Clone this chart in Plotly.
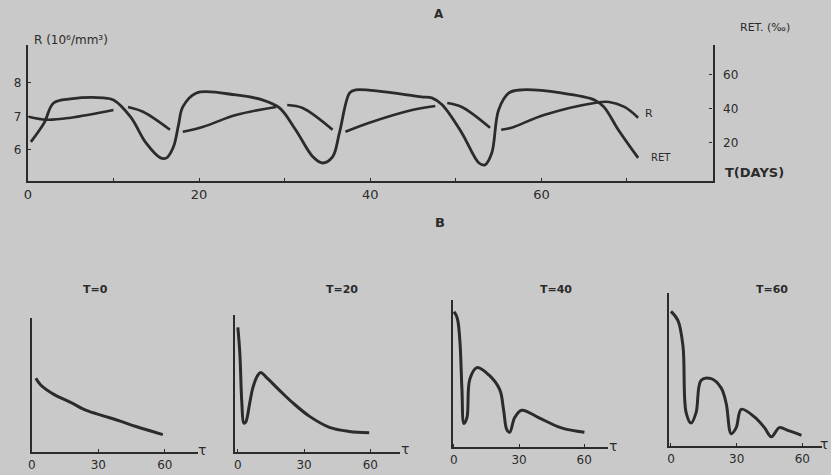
import plotly.graph_objects as go

# ---- Panel A data (T in days) ----
r_t = [0.1, 2.2, 5.0, 10.0, None, 11.7, 13.5, 16.6, None, 18.1, 20.5, 24.3, 29.0, None,
       30.3, 32.1, 35.6, None, 37.1, 39.9, 44.9, 47.6, None, 49.0, 50.7, 54.0, None,
       55.3, 56.5, 60.3, 66.2, 67.9, 69.7, 71.3]
r_val = [6.99, 6.90, 6.96, 7.19, None, 7.28, 7.13, 6.60, None, 6.54, 6.69, 7.04, 7.28, None,
         7.34, 7.25, 6.60, None, 6.54, 6.81, 7.19, 7.31, None, 7.40, 7.28, 6.66, None,
         6.60, 6.66, 7.04, 7.40, 7.43, 7.28, 6.96]

ret_t = [0.35, 1.9, 3.0, 5.0, 8.8, 10.0, 12.0, 13.8, 15.5, 16.2, 17.0, 17.6, 18.1, 19.7,
         24.3, 27.4, 29.4, 31.3, 33.3, 34.4, 35.6, 36.4, 37.6, 38.3, 46.0, 47.2, 48.4,
         50.7, 52.7, 53.4, 54.2, 55.0, 56.2, 57.7, 62.3, 66.2, 67.3, 69.0, 71.3]
ret_val = [20.6, 31.8, 43.5, 45.9, 46.5, 45.3, 35.3, 20.0, 11.2, 11.2, 17.6, 30.6, 41.2, 49.4,
           48.2, 45.3, 40.6, 27.6, 11.8, 8.2, 11.8, 25.9, 49.4, 51.2, 47.1, 46.5, 42.4,
           25.9, 8.2, 7.1, 14.1, 39.4, 49.4, 51.2, 49.4, 45.3, 41.2, 27.6, 11.2]

a_xticks = [0, 10, 20, 30, 40, 50, 60, 70]
a_xlabels = ["0", "", "20", "", "40", "", "60", ""]
r_ticks = [6, 7, 8]
ret_ticks = [20, 40, 60]

# ---- Panel B data (tau) ----
b_titles = ["T=0", "T=20", "T=40", "T=60"]
b0_tau = [1.8, 4.0, 9.9, 17.5, 24.6, 32.2, 39.9, 47.0, 59.1]
b0_val = [0.55, 0.50, 0.43, 0.37, 0.31, 0.27, 0.23, 0.19, 0.13]
b1_tau = [0, 0.9, 1.8, 2.7, 3.6, 5.4, 6.8, 9.0, 10.4, 12.6, 18.9, 24.8, 32.5, 41.5, 50.5, 59.5]
b1_val = [0.91, 0.72, 0.36, 0.21, 0.22, 0.36, 0.47, 0.56, 0.58, 0.55, 0.45, 0.36, 0.26, 0.18, 0.15, 0.14]
b2_tau = [0, 0.9, 1.8, 2.8, 3.7, 4.6, 6.0, 7.3, 10.6, 16.1, 21.1, 22.9, 24.3, 25.7, 28.0, 31.2, 39.0, 49.5, 60.1]
b2_val = [0.92, 0.90, 0.86, 0.71, 0.39, 0.16, 0.20, 0.46, 0.54, 0.49, 0.39, 0.25, 0.12, 0.10, 0.20, 0.25, 0.20, 0.13, 0.10]
b3_tau = [0, 3.2, 5.5, 6.9, 9.2, 11.5, 13.8, 18.3, 22.9, 25.2, 27.5, 29.8, 32.1, 38.1, 42.7, 45.9, 49.5, 53.7, 59.6]
b3_val = [0.88, 0.82, 0.65, 0.22, 0.15, 0.22, 0.43, 0.44, 0.38, 0.28, 0.08, 0.12, 0.24, 0.19, 0.12, 0.06, 0.12, 0.10, 0.07]
b_ticks = [0, 30, 60]

W, H = 831, 475
BG = "#c9c9c9"
INK = "#2b2b2b"
FONT = "DejaVu Sans"

def fx(px):
    return px / W

def fy(py):
    return 1 - py / H

fig = go.Figure()

fig.add_trace(go.Scatter(x=r_t, y=r_val, mode="lines", line=dict(color=INK, width=2.6, shape="spline"),
                         connectgaps=False, xaxis="x", yaxis="y", showlegend=False))
fig.add_trace(go.Scatter(x=ret_t, y=ret_val, mode="lines", line=dict(color=INK, width=2.8, shape="spline"),
                         xaxis="x", yaxis="y2", showlegend=False))

b_data = [(b0_tau, b0_val), (b1_tau, b1_val), (b2_tau, b2_val), (b3_tau, b3_val)]
for i, (tx, ty) in enumerate(b_data):
    fig.add_trace(go.Scatter(x=tx, y=ty, mode="lines", line=dict(color=INK, width=3, shape="spline"),
                             xaxis=f"x{i+3}", yaxis=f"y{i+3}", showlegend=False))

def axis_common(size=13):
    return dict(showgrid=False, zeroline=False, showline=True, linecolor=INK, linewidth=2.2,
                tickfont=dict(family=FONT, size=size, color=INK), tickcolor=INK)

layout = dict(
    width=W, height=H, margin=dict(l=0, r=0, t=0, b=0),
    paper_bgcolor=BG, plot_bgcolor=BG, showlegend=False,
    xaxis=dict(domain=[fx(24), fx(712)], range=[0, 80], anchor="y",
               tickvals=a_xticks, ticktext=a_xlabels, ticks="inside", ticklen=3,
               ticklabelstandoff=0, **axis_common(13)),
    yaxis=dict(domain=[fy(181), fy(45)], range=[5.07, 9.13], anchor="x",
               tickvals=r_ticks, ticks="inside", ticklen=3, ticklabelstandoff=2, **axis_common(12)),
    yaxis2=dict(range=[-2.4, 77.6], overlaying="y", side="right", anchor="x",
                tickvals=ret_ticks, ticks="inside", ticklen=3, ticklabelstandoff=6, **axis_common(12)),
)

# Bottom panels: (x-axis left px, right px, tau range, y top px, y bottom px)
b_geom = [
    (28, 195, [0, 75], 318, 452),
    (232, 398, [-1.35, 73.5], 315, 452),
    (451, 607, [-0.5, 71], 300, 447),
    (668, 822, [-1, 69], 293, 446),
]
for i, (x0, x1, rng, ytop, ybot) in enumerate(b_geom):
    n = i + 3
    layout[f"xaxis{n}"] = dict(domain=[fx(x0), fx(x1)], range=rng, anchor=f"y{n}",
                               tickvals=b_ticks, ticks="inside", ticklen=3,
                               ticklabelstandoff=0, **axis_common(12))
    layout[f"yaxis{n}"] = dict(domain=[fy(ybot), fy(ytop)], range=[0, 1], anchor=f"x{n}",
                               showticklabels=False, ticks="", **axis_common(12))

fig.update_layout(**layout)

ann = [
    ("<b>A</b>", 437, 14, "center", 12),
    ("<b>B</b>", 438, 222, "center", 13),
    ("R (10\u2076/mm\u00b3)", 28, 40, "left", 12),
    ("RET. (\u2030)", 738, 27, "left", 11),
    ("<b>T(DAYS)</b>", 722, 172, "left", 13),
    ("R", 648, 113, "center", 11),
    ("RET", 660, 157, "center", 10),
    ("<b>T=0</b>", 92, 289, "center", 11),
    ("<b>T=20</b>", 340, 289, "center", 11),
    ("<b>T=40</b>", 555, 289, "center", 11),
    ("<b>T=60</b>", 772, 289, "center", 11),
    ("\u03c4", 199, 450, "center", 14),
    ("\u03c4", 403, 449, "center", 14),
    ("\u03c4", 612, 446, "center", 14),
    ("\u03c4", 824, 444, "center", 14),
]
for text, px, py, align, size in ann:
    fig.add_annotation(text=text, x=fx(px), y=fy(py), xref="paper", yref="paper",
                       xanchor=align, yanchor="middle", showarrow=False,
                       font=dict(family=FONT, size=size, color=INK))

fig.write_html("out.html", config={"displayModeBar": False},
               post_script="document.body.style.margin='0px';document.body.style.padding='0px';"
                           "document.body.style.background='" + BG + "';")
